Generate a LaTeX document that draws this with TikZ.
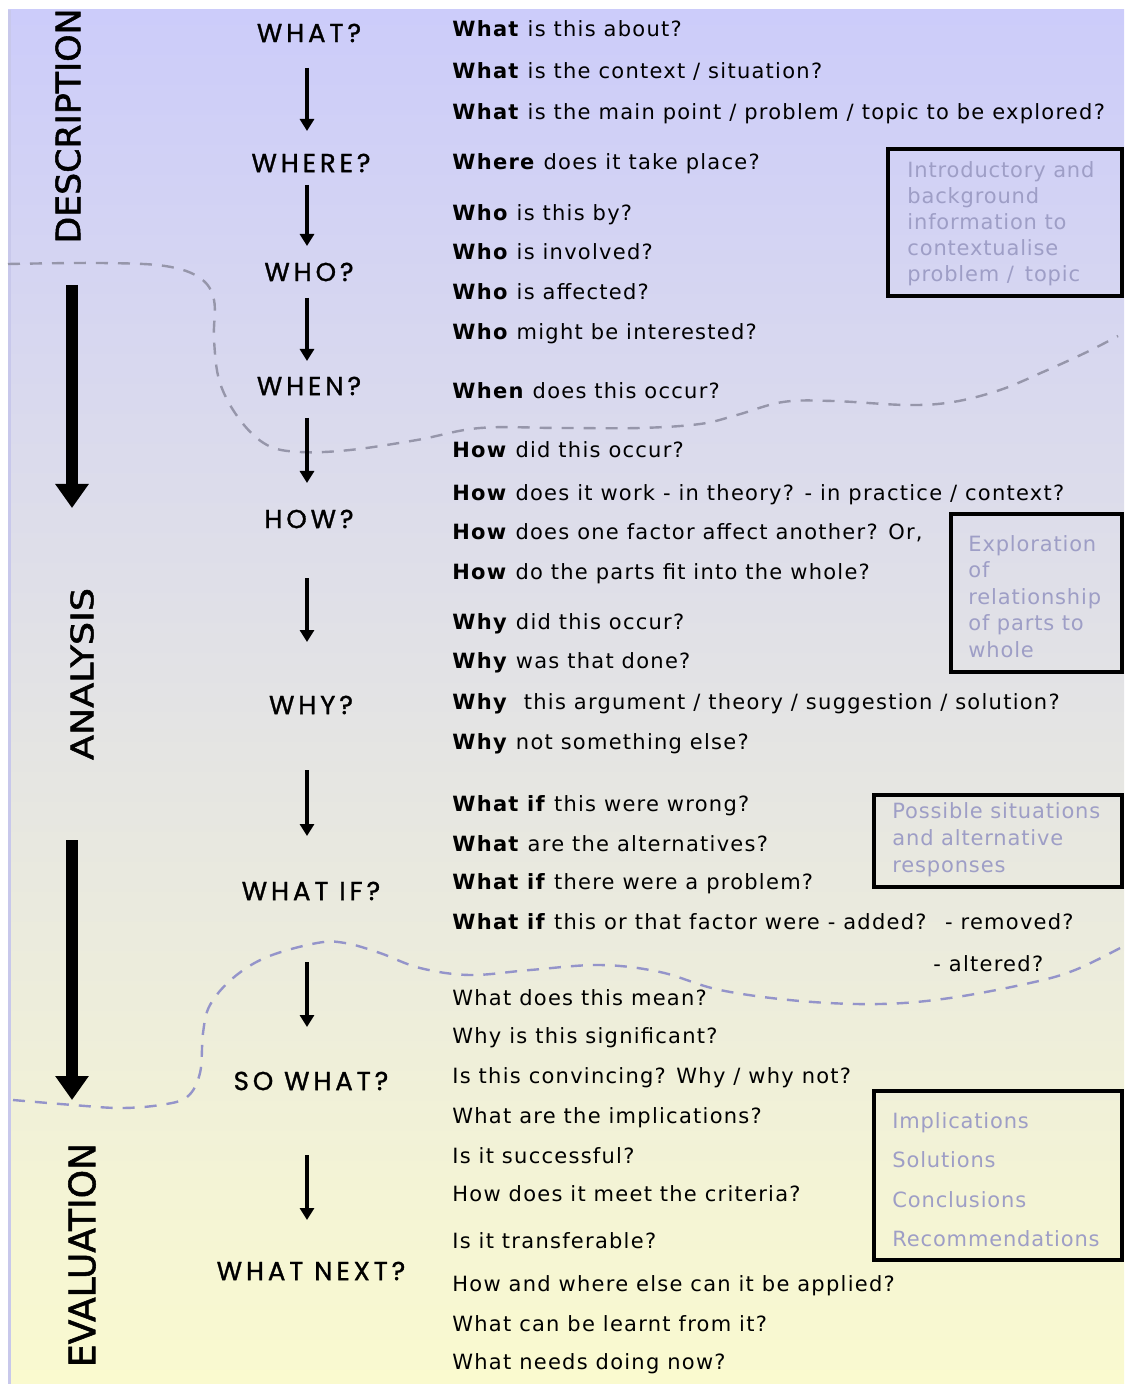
\documentclass[tikz,border=0pt]{standalone}
\usepackage{fontspec}
\usepackage{graphicx}
\setmainfont{DejaVu Sans}[LetterSpace=6]
\newfontfamily\headfont{Poppins}[LetterSpace=15,FakeBold=1.2]
\newfontfamily\sidefont{DejaVu Sans}[FakeBold=1.5]
\newfontfamily\boxfont{DejaVu Sans}[LetterSpace=4]
\usetikzlibrary{arrows.meta}
\definecolor{bgtop}{RGB}{204,204,250}
\definecolor{bgmid}{RGB}{229,229,234}
\definecolor{bgbot}{RGB}{250,250,207}
\definecolor{boxtxt}{RGB}{158,158,198}
\definecolor{dashA}{RGB}{150,150,170}
\definecolor{dashB}{RGB}{148,148,202}
\definecolor{edgeline}{RGB}{200,200,235}
\tikzset{
  head/.style={inner sep=0pt, font=\headfont\fontsize{13}{15}\selectfont},
  q/.style={anchor=base west, inner sep=0pt, font=\fontsize{10.5}{12}\selectfont},
  side/.style={inner sep=0pt, rotate=90, font=\sidefont},
  smallarrow/.style={line width=1.6pt, -{Triangle[width=7pt,length=6pt]}},
  bigarrow/.style={line width=6pt, -{Triangle[width=16pt,length=12pt]}},
  frame/.style={draw=black, line width=2pt, inner sep=0pt, anchor=north west},
  boxtext/.style={anchor=north west, inner sep=0pt, align=left, text=boxtxt},
  divide/.style={line width=1.2pt, dash pattern=on 6pt off 5pt}
}
\begin{document}
\begin{tikzpicture}[x=0.5pt,y=-0.5pt]
\useasboundingbox (0,0) rectangle (1124,1384);
\fill[white] (0,0) rectangle (1124,1384);
\shade[top color=bgtop, middle color=bgmid, bottom color=bgbot] (8,10) rectangle (1124,1384);
\draw[edgeline, line width=1.5pt] (9,10) -- (9,1384);

% dividing dashed curves
\draw[divide, dashA] plot[smooth, tension=0.6] coordinates {(8,264) (100,263) (165,266) (200,278) (214,300) (214,340) (220,383) (240,420) (267,445) (300,452) (350,450) (417,440) (480,428) (560,428) (640,428) (700,424) (737,415) (783,402) (833,401) (907,405) (953,402) (1000,390) (1043,372) (1087,352) (1118,336)};
\draw[divide, dashB] plot[smooth, tension=0.6] coordinates {(13,1100) (73,1105) (120,1108) (160,1105) (187,1097) (200,1073) (203,1033) (210,1005) (233,978) (267,957) (317,943) (345,943) (380,953) (420,968) (470,975) (530,970) (600,965) (660,972) (720,990) (800,1001) (880,1004) (950,998) (1030,983) (1075,970) (1122,947)};

% side labels
\node[side] (desc) at (68,126) {\resizebox{117.5pt}{12.5pt}{DESCRIPTION}};
\node[side] (anal) at (82,674) {\resizebox{86pt}{11.5pt}{ANALYSIS}};
\node[side] (eval) at (82,1255) {\resizebox{112pt}{13.5pt}{EVALUATION}};

% big arrows
\coordinate (big1s) at (72,285);
\coordinate (big1e) at (72,508);
\coordinate (big2s) at (72,840);
\coordinate (big2e) at (72,1100);
\draw[bigarrow] (big1s) -- (big1e);
\draw[bigarrow] (big2s) -- (big2e);

% headings
\node[head] (what) at (309,33) {WHAT?};
\node[head] (where) at (311,163) {WHERE?};
\node[head] (who) at (309,272) {WHO?};
\node[head] (when) at (309,386) {WHEN?};
\node[head] (how) at (309,519) {HOW?};
\node[head] (why) at (311,705) {WHY?};
\node[head] (whatif) at (311,891) {WHAT IF?};
\node[head] (sowhat) at (311,1081) {SO WHAT?};
\node[head] (whatnext) at (311,1271) {WHAT NEXT?};

% small arrows
\coordinate (s1) at (307,68);   \coordinate (e1) at (307,131);
\coordinate (s2) at (307,185);  \coordinate (e2) at (307,246);
\coordinate (s3) at (307,298);  \coordinate (e3) at (307,361);
\coordinate (s4) at (307,418);  \coordinate (e4) at (307,483);
\coordinate (s5) at (307,578);  \coordinate (e5) at (307,642);
\coordinate (s6) at (307,770);  \coordinate (e6) at (307,836);
\coordinate (s7) at (307,962);  \coordinate (e7) at (307,1027);
\coordinate (s8) at (307,1155); \coordinate (e8) at (307,1220);
\foreach \i in {1,...,8} {\draw[smallarrow] (s\i) -- (e\i);}

% questions
\node[q] (q1) at (452,37) {\textbf{What} is this about?};
\node[q] (q2) at (452,79) {\textbf{What} is the context / situation?};
\node[q] (q3) at (452,120) {\textbf{What} is the main point / problem / topic to be explored?};
\node[q] (q4) at (452,170) {\textbf{Where} does it take place?};
\node[q] (q5) at (452,221) {\textbf{Who} is this by?};
\node[q] (q6) at (452,260) {\textbf{Who} is involved?};
\node[q] (q7) at (452,300) {\textbf{Who} is affected?};
\node[q] (q8) at (452,340) {\textbf{Who} might be interested?};
\node[q] (q9) at (452,399) {\textbf{When} does this occur?};
\node[q] (q10) at (452,458) {\textbf{How} did this occur?};
\node[q] (q11) at (452,501) {\textbf{How} does it work - in theory? - in practice / context?};
\node[q] (q12) at (452,539) {\textbf{How} does one factor affect another? Or,};
\node[q] (q13) at (452,579) {\textbf{How} do the parts fit into the whole?};
\node[q] (q14) at (452,629) {\textbf{Why} did this occur?};
\node[q] (q15) at (452,668) {\textbf{Why} was that done?};
\node[q] (q16) at (452,709) {\textbf{Why} \ this argument / theory / suggestion / solution?};
\node[q] (q17) at (452,749) {\textbf{Why} not something else?};
\node[q] (q18) at (452,811) {\textbf{What if} this were wrong?};
\node[q] (q19) at (452,851) {\textbf{What} are the alternatives?};
\node[q] (q20) at (452,889) {\textbf{What if} there were a problem?};
\node[q] (q21) at (452,929) {\textbf{What if} this or that factor were - added? \ - removed?};
\node[q] (q22) at (933,971) {- altered?};
\node[q] (q23) at (452,1005) {What does this mean?};
\node[q] (q24) at (452,1043) {Why is this significant?};
\node[q] (q25) at (452,1083) {Is this convincing? Why / why not?};
\node[q] (q26) at (452,1123) {What are the implications?};
\node[q] (q27) at (452,1163) {Is it successful?};
\node[q] (q28) at (452,1201) {How does it meet the criteria?};
\node[q] (q29) at (452,1248) {Is it transferable?};
\node[q] (q30) at (452,1291) {How and where else can it be applied?};
\node[q] (q31) at (452,1331) {What can be learnt from it?};
\node[q] (q32) at (452,1369) {What needs doing now?};

% boxes
\node[frame, minimum width=117pt, minimum height=73.5pt] (box1) at (886,147) {};
\node[boxtext, font=\boxfont\fontsize{10.5}{13}\selectfont] (t1) at (907,161) {Introductory and\\background\\information to\\contextualise\\problem / \,topic};
\node[frame, minimum width=85.5pt, minimum height=79pt] (box2) at (949,512) {};
\node[boxtext, font=\boxfont\fontsize{10.5}{13.25}\selectfont] (t2) at (968,535) {Exploration\\of\\relationship\\of parts to\\whole};
\node[frame, minimum width=124pt, minimum height=46pt] (box3) at (872,793) {};
\node[boxtext, font=\boxfont\fontsize{10.5}{13.5}\selectfont] (t3) at (892,802) {Possible situations\\and alternative\\responses};
\node[frame, minimum width=124pt, minimum height=84.5pt] (box4) at (872,1089) {};
\node[boxtext, font=\boxfont\fontsize{10.5}{19.75}\selectfont] (t4) at (892,1112) {Implications\\Solutions\\Conclusions\\Recommendations};
\end{tikzpicture}
\end{document}
